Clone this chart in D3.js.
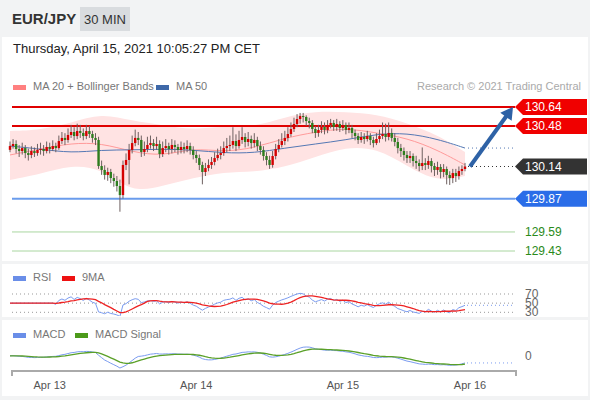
<!DOCTYPE html>
<html>
<head>
<meta charset="utf-8">
<script src="https://cdn.jsdelivr.net/npm/d3@7"></script>
<style>
  body { margin: 0; background: #f2f3f4; }
  svg { display: block; font-family: "Liberation Sans", Arial, sans-serif; }
</style>
</head>
<body>
<svg width="590" height="400"></svg>
<script>
// 30 min bars, EUR/JPY, first bar Apr 12 17:30 UTC
var firstBar = Date.UTC(2021, 3, 12, 17, 30);

var opens = [130.280,130.312,130.329,130.287,130.270,130.295,130.253,130.237,130.270,130.253,
  130.279,130.287,130.270,130.304,130.287,130.312,130.295,130.354,130.380,130.363,
  130.405,130.430,130.396,130.438,130.422,130.396,130.438,130.413,130.380,130.363,
  130.144,130.111,130.069,130.094,130.043,130.018,129.976,129.900,130.153,130.195,
  130.279,130.337,130.380,130.363,130.262,130.287,130.321,130.337,130.312,130.329,
  130.245,130.295,130.312,130.287,130.321,130.304,130.279,130.304,130.287,130.312,
  130.279,130.237,130.211,130.153,130.094,130.127,130.153,130.178,130.211,130.237,
  130.253,130.295,130.312,130.321,130.354,130.312,130.363,130.388,130.346,130.371,
  130.337,130.363,130.312,130.279,130.228,130.195,130.153,130.228,130.287,130.321,
  130.354,130.380,130.413,130.455,130.497,130.539,130.564,130.556,130.522,130.506,
  130.455,130.422,130.447,130.472,130.447,130.489,130.506,130.472,130.497,130.464,
  130.489,130.447,130.464,130.422,130.396,130.363,130.388,130.371,130.396,130.363,
  130.337,130.371,130.396,130.413,130.388,130.422,130.380,130.346,130.295,130.270,
  130.237,130.211,130.228,130.186,130.169,130.144,130.169,130.153,130.186,130.144,
  130.111,130.136,130.094,130.119,130.069,130.043,130.085,130.060,130.102,130.119];

var highs = [130.35,130.37,130.36,130.32,130.34,130.32,130.29,130.31,130.30,130.33,
  130.34,130.32,130.35,130.34,130.36,130.34,130.40,130.43,130.42,130.46,
  130.49,130.47,130.50,130.49,130.46,130.49,130.48,130.44,130.42,130.39,
  130.19,130.15,130.13,130.12,130.08,130.06,130.03,130.19,130.25,130.33,
  130.40,130.45,130.43,130.40,130.35,130.39,130.40,130.37,130.39,130.36,
  130.35,130.37,130.34,130.37,130.36,130.33,130.35,130.34,130.36,130.34,
  130.31,130.27,130.24,130.18,130.17,130.20,130.22,130.26,130.29,130.31,
  130.35,130.38,130.40,130.47,130.41,130.44,130.47,130.42,130.43,130.40,
  130.42,130.39,130.35,130.31,130.26,130.23,130.27,130.33,130.37,130.42,
  130.44,130.47,130.51,130.55,130.58,130.59,130.59,130.57,130.55,130.53,
  130.48,130.49,130.52,130.51,130.53,130.54,130.53,130.54,130.52,130.53,
  130.51,130.51,130.49,130.45,130.42,130.43,130.42,130.44,130.42,130.39,
  130.42,130.45,130.51,130.50,130.51,130.46,130.42,130.38,130.33,130.30,
  130.27,130.27,130.25,130.23,130.20,130.30,130.21,130.23,130.21,130.17,
  130.18,130.16,130.16,130.14,130.10,130.12,130.12,130.14,130.15,130.17];

var lows = [130.26,130.29,130.25,130.22,130.24,130.21,130.19,130.21,130.22,130.23,
  130.24,130.23,130.25,130.25,130.27,130.26,130.28,130.33,130.32,130.34,
  130.38,130.36,130.37,130.38,130.36,130.37,130.38,130.34,130.32,130.12,
  130.07,130.03,130.02,130.00,129.97,129.93,129.76,129.87,130.11,129.99,
  130.25,130.31,130.32,130.22,130.23,130.26,130.29,130.27,130.28,130.21,
  130.22,130.26,130.24,130.25,130.26,130.24,130.25,130.25,130.26,130.24,
  130.20,130.17,130.11,129.99,130.06,130.10,130.12,130.15,130.19,130.20,
  130.23,130.26,130.27,130.29,130.27,130.29,130.33,130.30,130.31,130.29,
  130.30,130.27,130.24,130.19,130.15,130.12,130.13,130.20,130.26,130.30,
  130.32,130.35,130.39,130.43,130.47,130.50,130.51,130.48,130.46,130.42,
  130.38,130.39,130.42,130.41,130.42,130.46,130.44,130.44,130.43,130.44,
  130.41,130.42,130.38,130.36,130.33,130.34,130.33,130.35,130.32,130.30,
  130.32,130.34,130.37,130.35,130.36,130.35,130.31,130.25,130.22,130.19,
  130.17,130.17,130.14,130.12,130.10,130.11,130.11,130.12,130.09,130.06,
  130.07,130.04,130.05,129.99,129.985,130.00,130.01,130.03,130.07,130.10];

var closes = [130.312,130.329,130.287,130.270,130.295,130.253,130.237,130.270,130.253,130.279,
  130.287,130.270,130.304,130.287,130.312,130.295,130.354,130.380,130.363,130.405,
  130.430,130.396,130.438,130.422,130.396,130.438,130.413,130.380,130.363,130.144,
  130.111,130.069,130.094,130.043,130.018,129.976,129.900,130.153,130.195,130.279,
  130.337,130.380,130.363,130.262,130.287,130.321,130.337,130.312,130.329,130.245,
  130.295,130.312,130.287,130.321,130.304,130.279,130.304,130.287,130.312,130.279,
  130.237,130.211,130.153,130.094,130.127,130.153,130.178,130.211,130.237,130.253,
  130.295,130.312,130.321,130.354,130.312,130.363,130.388,130.346,130.371,130.337,
  130.363,130.312,130.279,130.228,130.195,130.153,130.228,130.287,130.321,130.354,
  130.380,130.413,130.455,130.497,130.539,130.564,130.556,130.522,130.506,130.455,
  130.422,130.447,130.472,130.447,130.489,130.506,130.472,130.497,130.464,130.489,
  130.447,130.464,130.422,130.396,130.363,130.388,130.371,130.396,130.363,130.337,
  130.371,130.396,130.413,130.388,130.422,130.380,130.346,130.295,130.270,130.237,
  130.211,130.228,130.186,130.169,130.144,130.169,130.153,130.186,130.144,130.111,
  130.136,130.094,130.119,130.069,130.043,130.085,130.060,130.102,130.119,130.140];

// indicators every 10th bar
var bandBars = [0,10,20,30,40,50,60,70,80,90,100,110,120,130,140,149];
var bbUpper = [130.438,130.447,130.506,130.590,130.522,130.489,130.447,130.480,130.472,130.556,130.606,130.598,130.581,130.506,130.405,130.262];
var bbLower = [130.027,130.077,130.153,130.127,129.917,129.976,130.043,130.094,130.094,130.136,130.220,130.304,130.295,130.144,130.010,130.060];
var ma20 = [130.237,130.287,130.337,130.337,130.262,130.228,130.295,130.262,130.295,130.380,130.430,130.464,130.422,130.380,130.279,130.153];
var ma50 = [130.312,130.287,130.253,130.279,130.279,130.287,130.279,130.253,130.253,130.295,130.329,130.363,130.413,130.422,130.371,130.295];

var levels = [130.64, 130.48, 129.87, 129.59, 129.43];
var lastPrice = 130.14;
var target = 130.64;
var dayTicks = [Date.UTC(2021,3,13), Date.UTC(2021,3,14), Date.UTC(2021,3,15), Date.UTC(2021,3,16)];
var dayLabels = ["Apr 13", "Apr 14", "Apr 15", "Apr 16"];
var rsiLevels = [70, 50, 30];

var svg = d3.select("svg");
var left = 12, right = 515;

var bars = closes.map(function(c, i) {
  return {t: new Date(firstBar + i * 1800000), o: opens[i], h: highs[i], l: lows[i], c: c};
});

var x = d3.scaleTime()
  .domain([bars[0].t, bars[bars.length - 1].t])
  .range([10, 465]);
var y = d3.scaleLinear().domain([129.43, 130.64]).range([251, 107]);

// panels
svg.append("rect").attr("x", 0).attr("y", 0).attr("width", 590).attr("height", 37).attr("fill", "#f2f3f4");
svg.append("rect").attr("x", 2).attr("y", 37).attr("width", 586).attr("height", 224).attr("fill", "#fff");
svg.append("rect").attr("x", 2).attr("y", 264).attr("width", 586).attr("height", 53).attr("fill", "#fff");
svg.append("rect").attr("x", 2).attr("y", 320).attr("width", 586).attr("height", 76).attr("fill", "#fff");

// header
svg.append("text").attr("x", 12).attr("y", 24).attr("font-size", 15).attr("font-weight", "bold")
  .attr("fill", "#333").text("EUR/JPY");
svg.append("rect").attr("x", 80).attr("y", 7).attr("width", 50).attr("height", 24).attr("fill", "#d9dcdf");
svg.append("text").attr("x", 105).attr("y", 24).attr("font-size", 13).attr("text-anchor", "middle")
  .attr("fill", "#333").text("30 MIN");
svg.append("text").attr("x", 13).attr("y", 53).attr("font-size", 13).attr("fill", "#222")
  .text("Thursday, April 15, 2021 10:05:27 PM CET");

function legend(items, ly) {
  items.forEach(function(it) {
    svg.append("rect").attr("x", it[0]).attr("y", ly - 5).attr("width", 13).attr("height", 5).attr("fill", it[1]);
    svg.append("text").attr("x", it[0] + 20).attr("y", ly).attr("font-size", 11).attr("fill", "#777").text(it[2]);
  });
}
legend([[13, "#ff8080", "MA 20 + Bollinger Bands"], [156, "#3e68a8", "MA 50"]], 90);
svg.append("text").attr("x", 581).attr("y", 90).attr("font-size", 11).attr("text-anchor", "end")
  .attr("fill", "#aaa").text("Research \u00a9 2021 Trading Central");

// bollinger band + moving averages
var bandPts = bandBars.map(function(b, i) {
  return {t: bars[b].t, up: bbUpper[i], lo: bbLower[i], m20: ma20[i], m50: ma50[i]};
});
svg.append("path").datum(bandPts)
  .attr("fill", "#ffe3e3")
  .attr("d", d3.area().curve(d3.curveBasis)
    .x(function(d) { return x(d.t); })
    .y0(function(d) { return y(d.lo); })
    .y1(function(d) { return y(d.up); }));
svg.append("path").datum(bandPts)
  .attr("fill", "none").attr("stroke", "#ff9a9a").attr("stroke-width", 1)
  .attr("d", d3.line().curve(d3.curveBasis).x(function(d) { return x(d.t); }).y(function(d) { return y(d.m20); }));
svg.append("path").datum(bandPts)
  .attr("fill", "none").attr("stroke", "#5578b4").attr("stroke-width", 1)
  .attr("d", d3.line().curve(d3.curveBasis).x(function(d) { return x(d.t); }).y(function(d) { return y(d.m50); }));

// level lines
var levelColors = ["#e00000", "#e00000", "#6a9cec", "#a9d6a0", "#a9d6a0"];
var levelWidths = [2, 2, 2, 1, 1];
levels.forEach(function(v, i) {
  svg.append("line").attr("x1", left).attr("x2", right)
    .attr("y1", y(v)).attr("y2", y(v))
    .attr("stroke", levelColors[i]).attr("stroke-width", levelWidths[i]);
});

// candles
var last = bars[bars.length - 1];
var candle = svg.append("g").selectAll("g").data(bars).enter().append("g");
candle.append("line")
  .attr("x1", function(d) { return x(d.t); }).attr("x2", function(d) { return x(d.t); })
  .attr("y1", function(d) { return y(d.h); }).attr("y2", function(d) { return y(d.l); })
  .attr("stroke", "#6e6060").attr("stroke-width", 1);
candle.append("rect")
  .attr("x", function(d) { return x(d.t) - 1.2; })
  .attr("width", 2.4)
  .attr("y", function(d) { return y(Math.max(d.o, d.c)); })
  .attr("height", function(d) { return Math.max(1, Math.abs(y(d.o) - y(d.c))); })
  .attr("fill", function(d) { return d.c >= d.o ? "#d40000" : "#2d7d1e"; });

// dotted extensions
svg.append("line").attr("x1", x(last.t) + 3).attr("x2", right)
  .attr("y1", y(lastPrice)).attr("y2", y(lastPrice))
  .attr("stroke", "#333").attr("stroke-dasharray", "1,3");
svg.append("line").attr("x1", x(last.t) + 3).attr("x2", right)
  .attr("y1", y(ma50[ma50.length - 1])).attr("y2", y(ma50[ma50.length - 1]))
  .attr("stroke", "#5578b4").attr("stroke-dasharray", "1,3");

// forecast arrow
var ax0 = x(last.t) + 5, ay0 = y(lastPrice), ax1 = right - 2, ay1 = y(target);
var ang = Math.atan2(ay1 - ay0, ax1 - ax0);
svg.append("line").attr("x1", ax0).attr("y1", ay0)
  .attr("x2", ax1 - 9 * Math.cos(ang)).attr("y2", ay1 - 9 * Math.sin(ang))
  .attr("stroke", "#2e62a6").attr("stroke-width", 4);
svg.append("path")
  .attr("d", "M0,0L-12,-7L-12,7Z")
  .attr("transform", "translate(" + ax1 + "," + ay1 + ") rotate(" + (ang * 180 / Math.PI) + ")")
  .attr("fill", "#2e62a6");

// price tags
var tags = [[130.64, "#f00000"], [130.48, "#f00000"], [lastPrice, "#333333"], [129.87, "#2a6de8"]];
tags.forEach(function(t) {
  var yc = y(t[0]);
  svg.append("path")
    .attr("d", "M" + right + "," + yc + "L" + (right + 8) + "," + (yc - 8) + "L587," + (yc - 8) +
      "L587," + (yc + 8) + "L" + (right + 8) + "," + (yc + 8) + "Z")
    .attr("fill", t[1]);
  svg.append("text").attr("x", 525).attr("y", yc + 4).attr("font-size", 12)
    .attr("fill", "#fff").text(t[0].toFixed(2));
});
[129.59, 129.43].forEach(function(v) {
  svg.append("text").attr("x", 525).attr("y", y(v) + 4).attr("font-size", 12)
    .attr("fill", "#2a8a1a").text(v.toFixed(2));
});

// RSI(14), Wilder, seeded with the first 14 changes, and its 9MA
var gains = [], losses = [];
for (var i = 1; i < closes.length; i++) {
  gains.push(Math.max(closes[i] - closes[i - 1], 0));
  losses.push(Math.max(closes[i - 1] - closes[i], 0));
}
var ag = d3.mean(gains.slice(0, 14)), al = d3.mean(losses.slice(0, 14));
var rsi = [{t: bars[0].t, v: 100 - 100 / (1 + ag / al)}];
gains.forEach(function(g, j) {
  if (j >= 14) {
    ag = (ag * 13 + g) / 14;
    al = (al * 13 + losses[j]) / 14;
  }
  rsi.push({t: bars[j + 1].t, v: 100 - 100 / (1 + ag / al)});
});
var rsiMa = rsi.map(function(d, i) {
  var w = rsi.slice(Math.max(0, i - 8), i + 1);
  return {t: d.t, v: d3.mean(w, function(e) { return e.v; })};
});

legend([[13, "#6a8ee8", "RSI"], [62, "#ee1111", "9MA"]], 281);
var yR = d3.scaleLinear().domain([30, 70]).range([312.3, 294]);
svg.append("clipPath").attr("id", "rsiclip").append("rect")
  .attr("x", 0).attr("y", 284).attr("width", 590).attr("height", 32);
var rg = svg.append("g").attr("clip-path", "url(#rsiclip)");
rsiLevels.forEach(function(v) {
  rg.append("line").attr("x1", left).attr("x2", right).attr("y1", yR(v)).attr("y2", yR(v))
    .attr("stroke", "#999").attr("stroke-dasharray", "1,3");
});
var lnR = d3.line().x(function(d) { return x(d.t); }).y(function(d) { return yR(d.v); });
rg.append("path").datum(rsi).attr("fill", "none").attr("stroke", "#7b9cf0").attr("stroke-width", 1).attr("d", lnR);
rg.append("path").datum(rsiMa).attr("fill", "none").attr("stroke", "#ee2222").attr("stroke-width", 1.3).attr("d", lnR);
rg.append("line").attr("x1", x(last.t) + 2).attr("x2", right)
  .attr("y1", yR(rsi[rsi.length - 1].v)).attr("y2", yR(rsi[rsi.length - 1].v))
  .attr("stroke", "#7b9cf0").attr("stroke-dasharray", "1,3");
rsiLevels.forEach(function(v) {
  rg.append("rect").attr("x", 522).attr("y", yR(v) - 5).attr("width", 20).attr("height", 10).attr("fill", "#fff");
  rg.append("text").attr("x", 525).attr("y", yR(v) + 4).attr("font-size", 12).attr("fill", "#666").text(v);
});

// MACD (12, 26, 9)
function ema(vals, n) {
  var k = 2 / (n + 1), out = [vals[0]];
  for (var j = 1; j < vals.length; j++) out.push(vals[j] * k + out[j - 1] * (1 - k));
  return out;
}
var e12 = ema(closes, 12), e26 = ema(closes, 26);
var macd = e12.map(function(v, j) { return v - e26[j]; });
var signal = ema(macd, 9);

legend([[13, "#6a8ee8", "MACD"], [75, "#4c9a1a", "MACD Signal"]], 338);
var yM = d3.scaleLinear().domain(d3.extent(macd.concat(signal))).range([368, 347]);
var lnM = d3.line().x(function(d, j) { return x(bars[j].t); }).y(function(d) { return yM(d); });
svg.append("path").datum(macd).attr("fill", "none").attr("stroke", "#7b9cf0").attr("stroke-width", 1).attr("d", lnM);
svg.append("path").datum(signal).attr("fill", "none").attr("stroke", "#5aa028").attr("stroke-width", 1.3).attr("d", lnM);
svg.append("line").attr("x1", x(last.t) + 2).attr("x2", right)
  .attr("y1", yM(macd[macd.length - 1])).attr("y2", yM(macd[macd.length - 1]))
  .attr("stroke", "#7b9cf0").attr("stroke-dasharray", "1,3");
svg.append("text").attr("x", 525).attr("y", yM(0) + 4).attr("font-size", 12).attr("fill", "#666").text("0");

// time axis, last label kept inside the plot
var xAxis = svg.append("g").attr("transform", "translate(0,371)")
  .call(d3.axisBottom(x).tickValues(dayTicks.map(function(d) { return new Date(d); }))
    .tickSize(0).tickPadding(10)
    .tickFormat(function(d, i) { return dayLabels[i]; }));
xAxis.select(".domain").remove();
xAxis.selectAll(".tick").attr("transform", function(d) {
  return "translate(" + Math.min(x(d), right - 45) + ",0)";
});
xAxis.selectAll("text").attr("font-size", 11).attr("fill", "#555").attr("font-family", null);
svg.append("path").attr("d", "M" + left + ",376V371H516V376")
  .attr("fill", "none").attr("stroke", "#aaa").attr("stroke-width", 2);
</script>
</body>
</html>
